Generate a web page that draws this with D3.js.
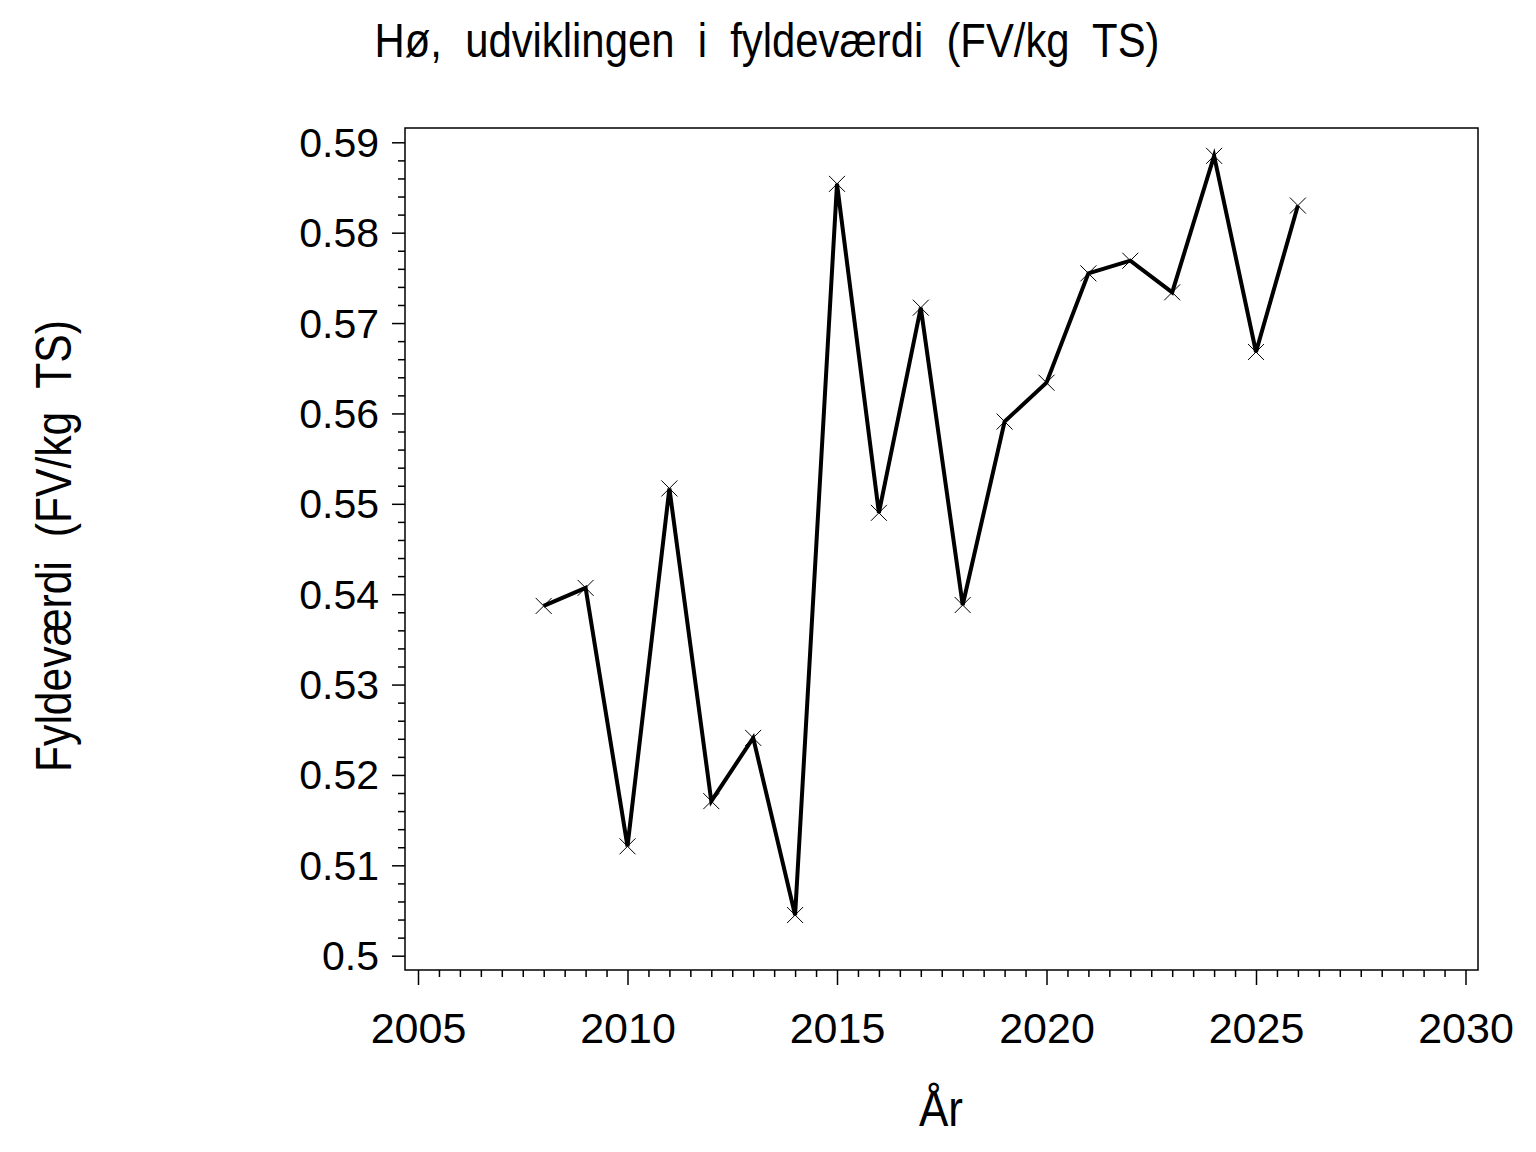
<!DOCTYPE html>
<html>
<head>
<meta charset="utf-8">
<script src="https://cdn.jsdelivr.net/npm/d3@7"></script>
<style>
  html, body { margin: 0; padding: 0; background: #fff; }
  svg { display: block; }
  text { font-family: "Liberation Sans", Arial, sans-serif; fill: #000; }
</style>
</head>
<body>
<svg id="chart"></svg>
<script>
// Data
const years = [2008, 2009, 2010, 2011, 2012, 2013, 2014, 2015, 2016, 2017,
               2018, 2019, 2020, 2021, 2022, 2023, 2024, 2025, 2026];
const fyldevaerdi = [0.5387, 0.5407, 0.5121, 0.5517, 0.5171, 0.5241, 0.5045, 0.5854, 0.5490, 0.5717,
                     0.5388, 0.5591, 0.5634, 0.5755, 0.5769, 0.5734, 0.5885, 0.5668, 0.5830];

const xMajorTicks = [2005, 2010, 2015, 2020, 2025, 2030];
const yMajorTicks = [0.5, 0.51, 0.52, 0.53, 0.54, 0.55, 0.56, 0.57, 0.58, 0.59];

const titleText = 'Hø,  udviklingen  i  fyldeværdi  (FV/kg  TS)';
const yLabelText = 'Fyldeværdi  (FV/kg  TS)';
const xLabelText = 'År';

const width = 1536, height = 1152;
// plot frame
const frame = { left: 405, top: 128, right: 1478, bottom: 970 };

const svg = d3.select('#chart')
  .attr('width', width)
  .attr('height', height)
  .attr('viewBox', `0 0 ${width} ${height}`);

const x = d3.scaleLinear().domain([2005, 2030]).range([418, 1465.5]);
const y = d3.scaleLinear().domain([0.5, 0.59]).range([955.7, 142.3]);

// --- Frame ---
svg.append('rect')
  .attr('x', frame.left)
  .attr('y', frame.top)
  .attr('width', frame.right - frame.left)
  .attr('height', frame.bottom - frame.top)
  .attr('fill', 'none')
  .attr('stroke', '#000')
  .attr('stroke-width', 1.5);

// --- X axis (ticks below the frame) ---
const xMinor = d3.range(2005, 2030.01, 0.5).filter(v => v % 5 !== 0);
const xMinorG = svg.append('g')
  .attr('transform', `translate(0,${frame.bottom})`)
  .call(d3.axisBottom(x).tickValues(xMinor).tickSize(7).tickFormat(''));
const xMajorG = svg.append('g')
  .attr('transform', `translate(0,${frame.bottom})`)
  .call(d3.axisBottom(x).tickValues(xMajorTicks).tickSize(15).tickFormat(d3.format('d')));

xMajorG.selectAll('text')
  .attr('font-size', 43)
  .attr('dy', null)
  .attr('y', 73)
  .style('font-family', '"Liberation Sans", Arial, sans-serif');

// --- Y axis (ticks left of the frame) ---
const yMinor = d3.range(0, 46).map(i => 0.5 + i * 0.002).filter((v, i) => i % 5 !== 0);
const yMinorG = svg.append('g')
  .attr('transform', `translate(${frame.left},0)`)
  .call(d3.axisLeft(y).tickValues(yMinor).tickSize(7).tickFormat(''));
const yMajorG = svg.append('g')
  .attr('transform', `translate(${frame.left},0)`)
  .call(d3.axisLeft(y).tickValues(yMajorTicks).tickSize(13).tickPadding(13).tickFormat(d => String(+d.toFixed(2))));

yMajorG.selectAll('text')
  .attr('font-size', 41)
  .attr('dy', null)
  .attr('y', 14)
  .style('font-family', '"Liberation Sans", Arial, sans-serif');

[xMinorG, xMajorG, yMinorG, yMajorG].forEach(g => {
  g.select('.domain').remove();
  g.selectAll('line').attr('stroke', '#000').attr('stroke-width', 1.5);
  g.attr('font-family', null).attr('font-size', null);
});

// --- Line ---
const points = years.map((yr, i) => ({ year: yr, value: fyldevaerdi[i] }));

const line = d3.line()
  .x(d => x(d.year))
  .y(d => y(d.value));

svg.append('path')
  .datum(points)
  .attr('d', line)
  .attr('fill', 'none')
  .attr('stroke', '#000')
  .attr('stroke-width', 4)
  .attr('stroke-linejoin', 'miter');

// X markers
const m = 8;
svg.selectAll('.marker')
  .data(points)
  .join('path')
  .attr('class', 'marker')
  .attr('d', d => {
    const cx = x(d.year), cy = y(d.value);
    return `M${cx - m},${cy - m}L${cx + m},${cy + m}M${cx - m},${cy + m}L${cx + m},${cy - m}`;
  })
  .attr('stroke', '#000')
  .attr('stroke-width', 1);

// --- Titles ---
svg.append('text')
  .attr('x', 767)
  .attr('y', 57)
  .attr('text-anchor', 'middle')
  .attr('font-size', 48)
  .attr('textLength', 785)
  .attr('lengthAdjust', 'spacingAndGlyphs')
  .style('white-space', 'pre')
  .text(titleText);

svg.append('text')
  .attr('transform', 'translate(71,546) rotate(-90)')
  .attr('text-anchor', 'middle')
  .attr('font-size', 50)
  .attr('textLength', 452)
  .attr('lengthAdjust', 'spacingAndGlyphs')
  .style('white-space', 'pre')
  .text(yLabelText);

svg.append('text')
  .attr('x', 941)
  .attr('y', 1126)
  .attr('text-anchor', 'middle')
  .attr('font-size', 50)
  .attr('textLength', 44)
  .attr('lengthAdjust', 'spacingAndGlyphs')
  .text(xLabelText);
</script>
</body>
</html>
